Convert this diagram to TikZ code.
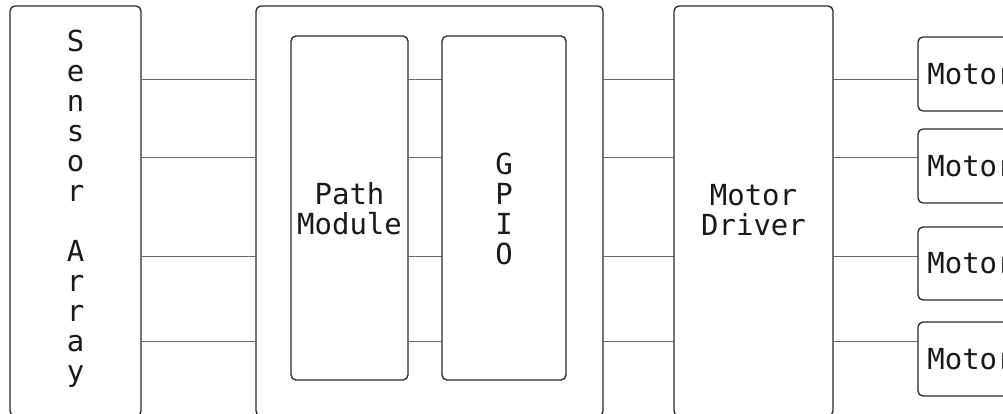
\documentclass[tikz,border=0pt]{standalone}
\usepackage{fontspec}
\setmonofont{DejaVu Sans Mono}
\begin{document}
\begin{tikzpicture}[x=1pt,y=-1pt,
  blk/.style={draw=black!85,line width=1.3pt,rounded corners=5pt},
  lbl/.style={font=\ttfamily\fontsize{29}{30}\selectfont,align=center,inner sep=0pt,text=black!90},
  wire/.style={draw=black!60,line width=0.9pt}]
\useasboundingbox (0,0) rectangle (1003,413);
\clip (0,0) rectangle (1003,413);
% blocks
\draw[blk] (10,6) rectangle (141,416);
\coordinate (sa) at (141,0);
\draw[blk] (256,6) rectangle (603,416);
\coordinate (ol) at (256,0);
\coordinate (or) at (603,0);
\draw[blk] (291,36) rectangle (408,380);
\coordinate (pm) at (408,0);
\draw[blk] (442,36) rectangle (566,380);
\coordinate (gp) at (442,0);
\draw[blk] (674,6) rectangle (833,416);
\coordinate (mdl) at (674,0);
\coordinate (mdr) at (833,0);
\node[lbl] (t1) at (75.5,209) {S\\e\\n\\s\\o\\r\\[30pt]A\\r\\r\\a\\y};
\node[lbl] (t2) at (349.5,209) {Path\\Module};
\node[lbl] (t3) at (504,209) {G\\P\\I\\O};
\node[lbl] (t4) at (753.5,210) {Motor\\Driver};
% motors
\foreach \i/\a/\b in {1/37/111,2/129/203,3/227/300,4/322/396}{
  \draw[blk] (918,\a) rectangle (1040,\b);
  \node[lbl] (m\i) at (971,{(\a+\b)/2}) {Motor};
}
\coordinate (mt) at (918,0);
% wires
\foreach \y in {79,157,256,341}{
  \draw[wire] (sa |- 0,\y) -- (ol |- 0,\y);
  \draw[wire] (pm |- 0,\y) -- (gp |- 0,\y);
  \draw[wire] (or |- 0,\y) -- (mdl |- 0,\y);
  \draw[wire] (mdr |- 0,\y) -- (mt |- 0,\y);
}
\end{tikzpicture}
\end{document}
